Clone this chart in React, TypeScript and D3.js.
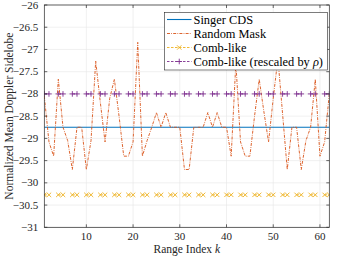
import React from "react";
import * as d3 from "d3";

const rangeIndex: number[] = d3.range(1, 63);
const singerCDS = -28.75;
const randomMask: number[] = [
  -28.05, -29.08, -29.4, -27.67, -28.75, -29.05, -29.7, -28.75, -28.75, -29.7,
  -29.05, -27.26, -28.2, -29.08, -28.1, -27.67, -28.5, -29.4, -29.4, -29.08,
  -26.84, -29.4, -29.05, -28.75, -28.42, -28.75, -28.42, -28.75, -28.75, -28.75,
  -29.7, -29.7, -28.75, -28.75, -28.75, -28.42, -28.75, -28.42, -28.75, -28.75,
  -29.4, -27.3, -29.08, -29.4, -29.4, -28.5, -27.67, -28.4, -29.08, -28.1,
  -27.2, -28.45, -29.7, -28.75, -28.75, -29.7, -29.05, -28.75, -27.67, -29.4,
  -29.08, -28.0,
];
const combLike = -30.27;
const combRescaled = -28.0;
const xTicks: number[] = [10, 20, 30, 40, 50, 60];
const yTicks: number[] = d3.range(-31, -25.99, 0.5);
const legendLabels: string[] = ["Singer CDS", "Random Mask", "Comb-like", "Comb-like (rescaled by "];

const W = 341, H = 256;
const L = 44.3, R = 329.3, T = 5, B = 227.3;
const AX = "#262626";
const C1 = "#0072BD", C2 = "#D95319", C3 = "#EDB120", C4 = "#7E2F8E";
const FONT = "'Times New Roman', 'Liberation Serif', Tinos, 'DejaVu Serif', serif";

export default function App() {
  const x = d3.scaleLinear().domain([1, 62]).range([L, R]);
  const y = d3.scaleLinear().domain([-31, -26]).range([B, T]);

  const combK = rangeIndex.filter((k) => k % 3 !== 0);
  const lineGen = d3
    .line<[number, number | null]>()
    .defined((d) => d[1] !== null)
    .x((d) => x(d[0]))
    .y((d) => y(d[1] as number));

  const combData = (v: number) => rangeIndex.map((k) => [k, k % 3 === 0 ? null : v] as [number, number | null]);
  const randData = rangeIndex.map((k, i) => [k, randomMask[i]] as [number, number | null]);
  const singerData = rangeIndex.map((k) => [k, singerCDS] as [number, number | null]);

  const xMark = (cx: number, cy: number, s: number, c: string, key: string) => (
    <path key={key} d={`M${cx - s},${cy - s}L${cx + s},${cy + s}M${cx - s},${cy + s}L${cx + s},${cy - s}`} stroke={c} strokeWidth={0.9} fill="none" />
  );
  const plusMark = (cx: number, cy: number, s: number, c: string, key: string) => (
    <path key={key} d={`M${cx - s},${cy}L${cx + s},${cy}M${cx},${cy - s}L${cx},${cy + s}`} stroke={c} strokeWidth={0.9} fill="none" />
  );

  const legX0 = 164.3, legX1 = 327.5, legY0 = 12.3, legY1 = 70;
  const legRows = [19.5, 33.5, 47.5, 61.5];
  const sx0 = 167, sx1 = 191.5, sxm = (sx0 + sx1) / 2;
  const ts = { fontFamily: FONT } as React.CSSProperties;

  return (
    <div style={{ position: "fixed", left: 0, top: 0, width: W, height: H, background: "#fff", fontFamily: FONT }}>
      <svg width={W} height={H} style={{ display: "block", fontFamily: FONT }}>
        <rect x={0} y={0} width={W} height={H} fill="#fff" />
        <rect x={L} y={T} width={R - L} height={B - T} fill="#fff" />
        {xTicks.map((t) => (
          <line key={"gx" + t} x1={x(t)} x2={x(t)} y1={T} y2={B} stroke="#e6e6e6" strokeWidth={0.6} />
        ))}
        {yTicks.map((t) => (
          <line key={"gy" + t} x1={L} x2={R} y1={y(t)} y2={y(t)} stroke="#e6e6e6" strokeWidth={0.6} />
        ))}
        <defs>
          <clipPath id="plotclip">
            <rect x={L} y={T} width={R - L} height={B - T} />
          </clipPath>
        </defs>
        <g clipPath="url(#plotclip)">
          <path d={lineGen(singerData) || ""} stroke={C1} strokeWidth={1.1} fill="none" />
          <path d={lineGen(randData) || ""} stroke={C2} strokeWidth={0.9} strokeDasharray="3,1.2,0.8,1.2" fill="none" />
          <path d={lineGen(combData(combLike)) || ""} stroke={C3} strokeWidth={0.9} strokeDasharray="2.5,1.5" fill="none" />
          {combK.map((k) => xMark(x(k), y(combLike), 2.2, C3, "c" + k))}
          <path d={lineGen(combData(combRescaled)) || ""} stroke={C4} strokeWidth={0.9} strokeDasharray="2.5,1.5" fill="none" />
          {combK.map((k) => plusMark(x(k), y(combRescaled), 2.8, C4, "p" + k))}
        </g>
        <rect x={L} y={T} width={R - L} height={B - T} fill="none" stroke={AX} strokeWidth={0.7} />
        {xTicks.map((t) => (
          <g key={"xt" + t}>
            <line x1={x(t)} x2={x(t)} y1={B} y2={B - 3} stroke={AX} strokeWidth={0.7} />
            <line x1={x(t)} x2={x(t)} y1={T} y2={T + 3} stroke={AX} strokeWidth={0.7} />
            <text x={x(t)} y={B + 12.5} textAnchor="middle" fontSize={11} style={ts} fill={AX}>{t}</text>
          </g>
        ))}
        {yTicks.map((t) => (
          <g key={"yt" + t}>
            <line x1={L} x2={L + 3} y1={y(t)} y2={y(t)} stroke={AX} strokeWidth={0.7} />
            <line x1={R} x2={R - 3} y1={y(t)} y2={y(t)} stroke={AX} strokeWidth={0.7} />
            <text x={L - 6} y={y(t) + 3.5} textAnchor="end" fontSize={11} style={ts} fill={AX}>{d3.format("")(+t.toFixed(1))}</text>
          </g>
        ))}
        <text x={(L + R) / 2} y={252.5} textAnchor="middle" fontSize={11.5} style={ts} fill={AX}>
          Range Index <tspan fontStyle="italic">k</tspan>
        </text>
        <text transform={`translate(13,${(T + B) / 2}) rotate(-90)`} textAnchor="middle" fontSize={11.5} style={ts} fill={AX}>
          Normalized Mean Doppler Sidelobe
        </text>
        <rect x={legX0} y={legY0} width={legX1 - legX0} height={legY1 - legY0} fill="#fff" stroke={AX} strokeWidth={0.6} />
        <line x1={sx0} x2={sx1} y1={legRows[0]} y2={legRows[0]} stroke={C1} strokeWidth={1.1} />
        <line x1={sx0} x2={sx1} y1={legRows[1]} y2={legRows[1]} stroke={C2} strokeWidth={0.9} strokeDasharray="3,1.2,0.8,1.2" />
        <line x1={sx0} x2={sx1} y1={legRows[2]} y2={legRows[2]} stroke={C3} strokeWidth={0.9} strokeDasharray="2.5,1.5" />
        {xMark(sxm, legRows[2], 2.2, C3, "lx")}
        <line x1={sx0} x2={sx1} y1={legRows[3]} y2={legRows[3]} stroke={C4} strokeWidth={0.9} strokeDasharray="2.5,1.5" />
        {plusMark(sxm, legRows[3], 2.8, C4, "lp")}
        {legendLabels.map((s, i) => (
          <text key={"lt" + i} x={193.5} y={legRows[i] + 4} fontSize={12.4} style={ts} fill="#000">
            {s}
            {i === 3 ? (
              <>
                <tspan fontStyle="italic">ρ</tspan>)
              </>
            ) : null}
          </text>
        ))}
      </svg>
    </div>
  );
}
